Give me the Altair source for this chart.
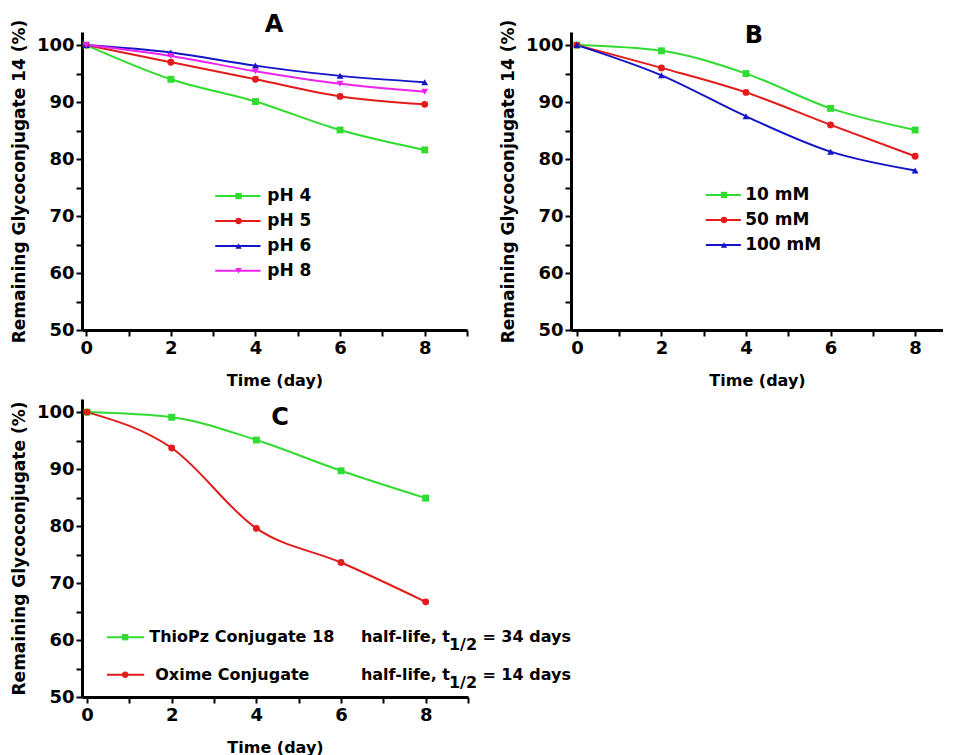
import altair as alt
import pandas as pd

days = [0, 2, 4, 6, 8]

# Panel A: pH stability
ph_series = ["pH 4", "pH 5", "pH 6", "pH 8"]
ph4 = [100, 94.0, 90.1, 85.1, 81.6]
ph5 = [100, 97.0, 94.0, 91.0, 89.6]
ph6 = [100, 98.7, 96.4, 94.6, 93.5]
ph8 = [100, 98.1, 95.4, 93.2, 91.8]

# Panel B: concentration
conc_series = ["10 mM", "50 mM", "100 mM"]
mm10 = [100, 99.0, 95.0, 88.9, 85.1]
mm50 = [100, 96.0, 91.7, 86.0, 80.5]
mm100 = [100, 94.7, 87.5, 81.3, 78.0]

# Panel C: conjugate comparison
conj_series = ["ThioPz Conjugate 18", "Oxime Conjugate"]
thiopz = [100, 99.1, 95.1, 89.7, 84.9]
oxime = [100, 93.7, 79.6, 73.6, 66.7]
half_life = ["34 days", "14 days"]

GREEN, RED, BLUE, MAGENTA = "#2fdc2f", "#e31b1b", "#1414c8", "#ee22ee"
FONT = "DejaVu Sans"


def long_df(names, series_values):
    rows = []
    for name, vals in zip(names, series_values):
        for d, v in zip(days, vals):
            rows.append({"series": name, "day": d, "value": v})
    return pd.DataFrame(rows)


def panel(df, names, colors, shapes, xdom, ydom, width, height, ytitle,
          legend_df, letter, letter_xy, ytitle_pad=8, legend_size=17, extra=None):
    xscale = alt.Scale(domain=xdom, nice=False, zero=False)
    yscale = alt.Scale(domain=ydom, nice=False, zero=False)
    xaxis = alt.Axis(title="Time (day)", values=list(range(0, 10)),
                     labelExpr="datum.value % 2 == 0 ? datum.label : ''",
                     titlePadding=15, labelPadding=3, titleFontSize=16)
    yaxis = alt.Axis(title=ytitle, values=list(range(50, 101, 5)),
                     labelExpr="datum.value % 10 == 0 ? datum.label : ''",
                     titlePadding=ytitle_pad, labelPadding=2, titleFontSize=17)

    def X(f):
        return alt.X(f, type="quantitative", scale=xscale, axis=xaxis)

    def Y(f):
        return alt.Y(f, type="quantitative", scale=yscale, axis=yaxis)

    cscale = alt.Scale(domain=names, range=colors)
    sscale = alt.Scale(domain=names, range=shapes)
    col = alt.Color("series:N", scale=cscale, legend=None)
    shp = alt.Shape("series:N", scale=sscale, legend=None)

    base = alt.Chart(df)
    lines = base.mark_line(interpolate="monotone", strokeWidth=2).encode(
        x=X("day"), y=Y("value"), color=col)
    pts = base.mark_point(filled=True, opacity=1, size=48).encode(
        x=X("day"), y=Y("value"), color=col, shape=shp)

    lg = alt.Chart(legend_df)
    lg_rule = lg.mark_rule(strokeWidth=2).encode(
        x=X("lx0"), x2="lx1:Q", y=Y("ly"), color=col)
    lg_pts = lg.mark_point(filled=True, opacity=1, size=40).encode(
        x=X("lxm"), y=Y("ly"), color=col, shape=shp)
    lg_txt = lg.mark_text(align="left", baseline="middle", font=FONT,
                          fontWeight="bold", fontSize=legend_size,
                          color="black").encode(
        x=X("lxt"), y=Y("ly"), text="series:N")

    title = alt.Chart(pd.DataFrame({"t": [letter]})).mark_text(
        font=FONT, fontWeight="bold", fontSize=24, color="black",
        baseline="middle", align="center").encode(
        text="t:N", x=alt.value(letter_xy[0]), y=alt.value(letter_xy[1]))

    layers = [lines, pts, lg_rule, lg_pts, lg_txt, title]
    if extra is not None:
        ex = alt.Chart(extra).mark_text(align="left", baseline="middle", font=FONT,
                                        fontWeight="bold", fontSize=16,
                                        color="black").encode(
            x=X("tx"), y=Y("ty"), text="txt:N")
        layers.append(ex)
    return alt.layer(*layers).properties(width=width, height=height)


# ---- Panel A ----
dfA = long_df(ph_series, [ph4, ph5, ph6, ph8])
legA = pd.DataFrame({"series": ph_series})
legA["lx0"], legA["lx1"], legA["lxm"], legA["lxt"] = 3.05, 4.12, 3.6, 4.28
legA["ly"] = [73.5 - 4.37 * i for i in range(len(ph_series))]
chartA = panel(dfA, ph_series, [GREEN, RED, BLUE, MAGENTA],
               ["square", "circle", "triangle-up", "triangle-down"],
               [-0.1, 9.0], [50, 102.3], 385, 298,
               "Remaining Glycoconjugate 14 (%)", legA, "A", (192, -7))

# ---- Panel B ----
dfB = long_df(conc_series, [mm10, mm50, mm100])
legB = pd.DataFrame({"series": conc_series})
legB["lx0"], legB["lx1"], legB["lxm"], legB["lxt"] = 3.05, 3.88, 3.48, 3.98
legB["ly"] = [73.7 - 4.4 * i for i in range(len(conc_series))]
chartB = panel(dfB, conc_series, [GREEN, RED, BLUE],
               ["square", "circle", "triangle-up"],
               [-0.14, 8.66], [50, 102.3], 372, 298,
               "Remaining Glycoconjugate 14 (%)", legB, "B", (183, 4))

# ---- Panel C ----
dfC = long_df(conj_series, [thiopz, oxime])
legC = pd.DataFrame({"series": conj_series})
legC["lx0"], legC["lx1"], legC["lxm"] = 0.47, 1.35, 0.9
legC["lxt"] = [1.47, 1.61]
legC["ly"] = [60.5, 53.9]
extra_rows = []
for i, hl in enumerate(half_life):
    yy = legC["ly"][i]
    extra_rows.append({"txt": "half-life, t", "tx": 6.47, "ty": yy})
    extra_rows.append({"txt": "1/2", "tx": 8.55, "ty": yy - 1.4})
    extra_rows.append({"txt": "= " + hl, "tx": 9.34, "ty": yy})
extraC = pd.DataFrame(extra_rows)
chartC = panel(dfC, conj_series, [GREEN, RED], ["square", "circle"],
               [-0.12, 9.0], [50, 102.3], 386, 298,
               "Remaining Glycoconjugate  (%)", legC, "C", (198, 19),
               legend_size=16, extra=extraC)

top = alt.hconcat(chartA, chartB, spacing=31).resolve_scale(
    color="independent", shape="independent")
chart = alt.vconcat(top, chartC, spacing=10).resolve_scale(
    color="independent", shape="independent").properties(
    padding={"left": 2, "top": 5, "right": 0, "bottom": 0}
).configure_view(stroke=None).configure_axis(
    domainColor="black", domainWidth=3, tickColor="black", tickWidth=2,
    tickSize=6, labelFont=FONT, labelFontWeight="bold", labelFontSize=18,
    labelColor="black", titleFont=FONT, titleFontWeight="bold",
    titleColor="black", grid=False
)

chart.save("out.html", embed_options={"renderer": "svg", "actions": False})
